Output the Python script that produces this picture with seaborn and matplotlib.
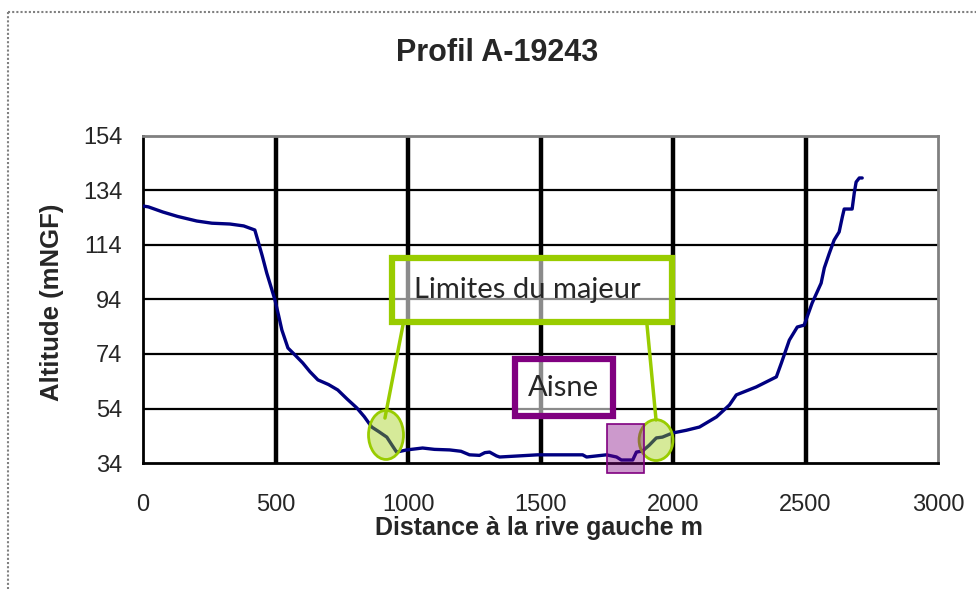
import matplotlib
matplotlib.use("Agg")
import matplotlib.pyplot as plt
from matplotlib.patches import Rectangle, Ellipse
from matplotlib.lines import Line2D
import seaborn as sns
import pandas as pd

# ---- data ----
distance = [0, 20, 75, 130, 203, 260, 328, 380, 422, 433, 450, 467, 485, 498, 512, 524, 547, 575,
            603, 630, 660, 700, 735, 770, 807, 835, 863, 890, 920, 940, 957, 995, 1055, 1100, 1157,
            1200, 1232, 1270, 1290, 1308, 1334, 1346, 1400, 1489, 1550, 1600, 1659, 1674, 1749, 1787,
            1805, 1848, 1862, 1885, 1910, 1937, 1960, 1998, 2050, 2100, 2164, 2213, 2239, 2314, 2390,
            2409, 2439, 2469, 2495, 2525, 2559, 2571, 2590, 2608, 2627, 2639, 2646, 2676, 2684, 2691,
            2703, 2714]
altitude = [128.3, 128.0, 126.1, 124.5, 122.8, 122.0, 121.7, 121.0, 119.5, 115.8, 110.0, 103.7, 98.0,
            93.8, 88.0, 82.8, 76.2, 73.5, 70.7, 67.5, 64.5, 62.8, 60.8, 57.5, 54.2, 51.0, 47.2, 45.5,
            43.5, 40.5, 38.0, 38.8, 39.5, 39.0, 38.8, 38.3, 37.0, 36.8, 37.8, 38.0, 36.6, 36.2, 36.5,
            37.0, 37.0, 37.0, 37.0, 36.2, 37.0, 36.2, 35.1, 35.1, 38.0, 38.4, 40.5, 43.2, 43.5, 45.0,
            46.0, 47.2, 50.9, 55.3, 59.0, 61.9, 65.6, 70.7, 79.1, 83.9, 84.6, 92.7, 100.0, 105.6, 111.0,
            115.8, 118.8, 124.3, 127.2, 127.2, 133.1, 137.1, 138.6, 138.6]
x_ticks = [0, 500, 1000, 1500, 2000, 2500, 3000]
y_ticks = [34, 54, 74, 94, 114, 134, 154]
title = "Profil A-19243"
x_label = "Distance à la rive gauche m"
y_label = "Altitude (mNGF)"
label_majeur = "Limites du majeur"
label_aisne = "Aisne"

df = pd.DataFrame({"distance": distance, "altitude": altitude})

sns.set_style("white")
plt.rcParams["font.family"] = ["Liberation Sans", "DejaVu Sans"]

W, H = 976, 589
fig = plt.figure(figsize=(W / 100, H / 100), dpi=100)
ax = fig.add_axes([143 / W, 1 - 463 / H, (938 - 143) / W, (463 - 136) / H])

# grid
for yv in y_ticks[1:-1]:
    ax.axhline(yv, color="black", lw=1.6, zorder=1)
for xv in x_ticks[1:-1]:
    ax.axvline(xv, color="black", lw=3.2, zorder=1)

sns.lineplot(data=df, x="distance", y="altitude", ax=ax, color="#000080", lw=2.4,
             estimator=None, sort=False, zorder=3)

ax.set_xlim(0, 3000)
ax.set_ylim(34, 154)
ax.set_xticks(x_ticks)
ax.set_yticks(y_ticks)
ax.tick_params(axis="both", labelsize=17, color="black", width=1.5, direction="out")
ax.tick_params(axis="x", length=7, pad=15)
ax.tick_params(axis="y", length=9, pad=6)
for s in ["left", "bottom"]:
    ax.spines[s].set_color("black")
    ax.spines[s].set_linewidth(2)
for s in ["right", "top"]:
    ax.spines[s].set_color("#808080")
    ax.spines[s].set_linewidth(2)

ax.set_xlabel(x_label, fontsize=18, fontweight="bold")
ax.set_ylabel(y_label, fontsize=18.5, fontweight="bold")
ax.xaxis.set_label_coords(0.498, (463 - 528) / 327)
ax.xaxis.label.set_va("center")
ax.yaxis.set_label_coords((52 - 143) / 795, (463 - 302) / 327)
ax.yaxis.label.set_va("center")
fig.text(497 / W, 1 - 53 / H, title, ha="center", va="center", fontsize=22, fontweight="bold")

green = "#99CC00"
purple = "#800080"
calibri = ["Lato", "Open Sans", "DejaVu Sans"]

# green box
ax.add_patch(Rectangle((941, 85.6), 1998 - 941, 109.4 - 85.6, facecolor=(1, 1, 1, 0.55),
                       edgecolor=green, lw=4.5, zorder=4, clip_on=False))
ax.text(1452, 97.6, label_majeur, ha="center", va="center", fontsize=21, family=calibri, zorder=5)
ax.plot([981, 913], [84.6, 50.5], color=green, lw=2.5, zorder=4)
ax.plot([1902, 1936], [84.6, 49.8], color=green, lw=2.5, zorder=4)

# ellipses
ax.add_patch(Ellipse((917, 44.3), 132, 18, facecolor=(153/255, 204/255, 0, 0.4),
                     edgecolor=green, lw=2, zorder=5))
ax.add_patch(Ellipse((1936, 42.4), 128, 15, facecolor=(153/255, 204/255, 0, 0.4),
                     edgecolor=green, lw=2, zorder=5))

# purple box
ax.add_patch(Rectangle((1402, 51.4), 1775 - 1402, 72 - 51.4, facecolor=(1, 1, 1, 0.55),
                       edgecolor=purple, lw=4.5, zorder=4))
ax.text(1585, 61.5, label_aisne, ha="center", va="center", fontsize=21, family=calibri, zorder=5)

# purple filled rect (river channel)
ax.add_patch(Rectangle((1751, 30.3), 1891 - 1751, 48.3 - 30.3, facecolor=(128/255, 0, 128/255, 0.4),
                       edgecolor=purple, lw=1.2, zorder=5, clip_on=False))

# outer dotted border
fig.add_artist(Line2D([8 / W, 8 / W], [1 - 12 / H, 0], transform=fig.transFigure,
                      color="#808080", lw=1.5, ls=(0, (1, 1))))
fig.add_artist(Line2D([8 / W, 1], [1 - 12 / H, 1 - 12 / H], transform=fig.transFigure,
                      color="#808080", lw=1.5, ls=(0, (1, 1))))

fig.savefig("out.png", dpi=100)
